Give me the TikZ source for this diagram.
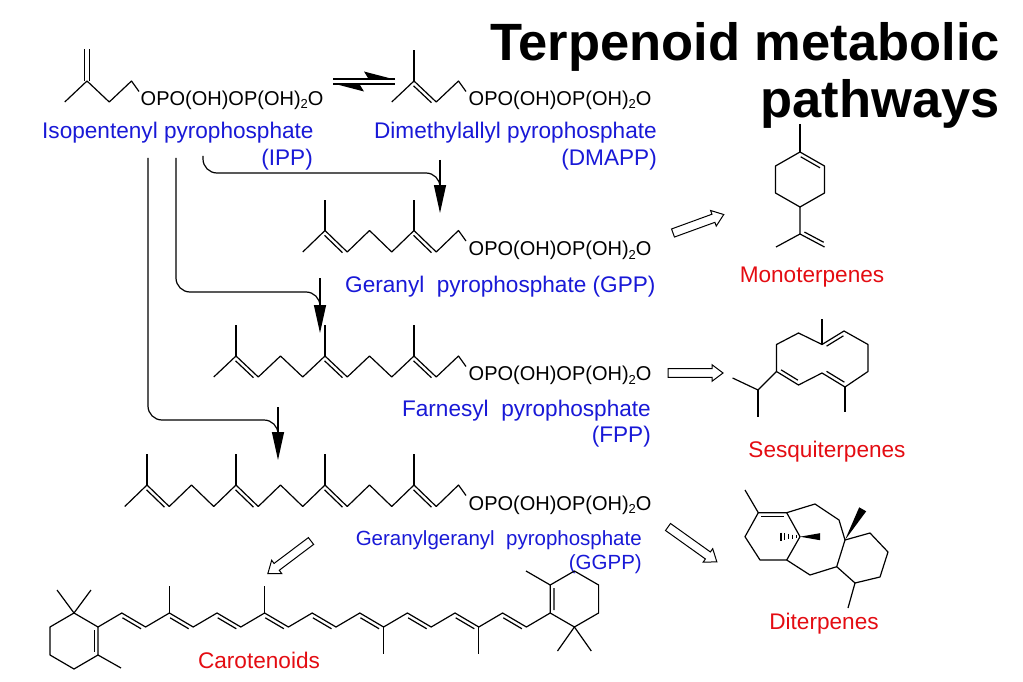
\documentclass[tikz,border=0pt]{standalone}
\usepackage{fontspec}
\setmainfont{Liberation Sans}
\usetikzlibrary{calc,arrows.meta}
\definecolor{lblue}{RGB}{25,25,215}
\definecolor{lred}{RGB}{228,12,18}
\tikzset{
 bond/.style={line width=1.2pt, line join=round},
 arr/.style={line width=1.2pt, rounded corners=14pt, -{Triangle[length=28pt,width=12pt]}},
 hollowarrow/.style={line width=1pt, draw=black, fill=white, line join=miter},
 blab/.style={text=lblue, inner sep=0pt, font=\fontsize{22.6}{26}\selectfont},
 glab/.style={text=lblue, inner sep=0pt, font=\fontsize{20.5}{24}\selectfont},
 rlab/.style={text=lred, inner sep=0pt, anchor=base, font=\fontsize{22.6}{26}\selectfont},
 pyro/.style={inner sep=0pt, anchor=base west, font=\fontsize{20}{24}\selectfont},
 titlefont/.style={inner sep=0pt, anchor=base east, font=\fontsize{52.5}{60}\selectfont\bfseries},
}
\newcommand{\subtwo}{{\fontsize{13}{13}\selectfont\raisebox{-3.5pt}{2}}}
\newcommand{\dbl}[2]{\draw[bond, shorten <=3pt, shorten >=3pt] ($(#1)!3.8pt!-90:(#2)$) -- ($(#2)!3.8pt!90:(#1)$);}
\newcommand{\isochain}[4]{%
 \foreach \m in {#2,...,15}{%
   \pgfmathtruncatemacro\isoodd{mod(\m,2)}%
   \ifnum\isoodd=1 \coordinate (#1\m) at ({124.75+22.25*\m},#3);\else\coordinate (#1\m) at ({124.75+22.25*\m},#4);\fi
 }%
 \pgfmathtruncatemacro\isonext{#2+1}%
 \draw[bond] (#1#2) \foreach \m in {\isonext,...,15}{ -- (#1\m)} -- ++(7.5,10.5);
 \foreach \m in {1,5,9,13}{%
   \ifnum\m<#2\relax\else
     \draw[bond] (#1\m) -- ++(0,-31);
     \pgfmathtruncatemacro\isonx{\m+1}%
     \dbl{#1\m}{#1\isonx}
   \fi
 }%
}
\newcommand{\hollowarr}[3]{%
 \begin{scope}[shift={#1},rotate=#2]
  \draw[hollowarrow] (0,-4.3) -- ({#3-11},-4.3) -- ({#3-11},-8.3) -- (#3,0) -- ({#3-11},8.3) -- ({#3-11},4.3) -- (0,4.3) -- cycle;
 \end{scope}}
\begin{document}
\begin{tikzpicture}[x=1pt,y=-1pt]
\fill[white] (0,0) rectangle (1023,682);
\useasboundingbox (0,0) rectangle (1023,682);

% title
\node[titlefont] (title1) at (1000,61) {Terpenoid metabolic};
\node[titlefont] (title2) at (1000,118) {pathways};

% IPP
\coordinate (I1) at (64.75,102);
\coordinate (I2) at (87,81);
\coordinate (I3) at (109.25,102);
\coordinate (I4) at (131.5,81);
\coordinate (I5) at (87,49.5);
\draw[bond] (I1) -- (I2) -- (I3) -- (I4) -- ++(7.5,10.5);
\draw[bond] ($(I2)+(-2.2,0)$) -- ($(I5)+(-2.2,0)$);
\draw[bond] ($(I2)+(2.2,0)$) -- ($(I5)+(2.2,0)$);
\node[pyro] (ipptext) at (140.5,105.5) {OPO(OH)OP(OH)\subtwo O};
\node[blab, anchor=base west] (ipplab) at (42,139) {Isopentenyl pyrophosphate};
\node[blab, anchor=base east] (ippab) at (313,165) {(IPP)};

% equilibrium harpoons
\coordinate (EqA) at (333,79);
\coordinate (EqB) at (395,79);
\coordinate (EqC) at (333,84);
\coordinate (EqD) at (395,84);
\draw[bond] (EqA) -- (EqB);
\fill (395,79.6) -- (364,71.5) -- (369,79.6) -- cycle;
\draw[bond] (EqC) -- (EqD);
\fill (333,83.4) -- (364,91.5) -- (359,83.4) -- cycle;

% DMAPP, GPP, FPP, GGPP chains
\isochain{DM}{12}{81}{102}
\isochain{GP}{8}{230.5}{252}
\isochain{FP}{4}{356}{377}
\isochain{GG}{0}{485}{506.5}
\node[pyro] (dmtext) at (468.5,105.5) {OPO(OH)OP(OH)\subtwo O};
\node[pyro] (gptext) at (468.5,255.5) {OPO(OH)OP(OH)\subtwo O};
\node[pyro] (fptext) at (468.5,380.5) {OPO(OH)OP(OH)\subtwo O};
\node[pyro] (ggtext) at (468.5,510) {OPO(OH)OP(OH)\subtwo O};

\node[blab, anchor=base east] (dmlab) at (657,139) {Dimethylallyl pyrophosphate};
\node[blab, anchor=base east] (dmab) at (657,165) {(DMAPP)};
\node[blab, anchor=base west] (gplab) at (345,292) {Geranyl~~pyrophosphate (GPP)};
\node[blab, anchor=base east] (fplab) at (651,416) {Farnesyl~~pyrophosphate};
\node[blab, anchor=base east] (fpab) at (651,442) {(FPP)};
\node[glab, anchor=base east] (gglab) at (642,545) {Geranylgeranyl~~pyrophosphate};
\node[glab, anchor=base east] (ggab) at (642,569) {(GGPP)};

% curved arrows from IPP
\coordinate (A0) at (203,156);
\coordinate (A1) at (440,173);
\coordinate (A2) at (440,213);
\coordinate (A3) at (440,160);
\draw[arr] (A0) |- (A1) -- (A2);
\draw[bond] (A3) -- (440,190);
\coordinate (B0) at (176,158);
\coordinate (B1) at (320,292);
\coordinate (B2) at (320,333);
\coordinate (B3) at (320,278);
\draw[arr] (B0) |- (B1) -- (B2);
\draw[bond] (B3) -- (320,306);
\coordinate (C0) at (148,158);
\coordinate (C1) at (278,420);
\coordinate (C2) at (278,460);
\coordinate (C3) at (278,407);
\draw[arr] (C0) |- (C1) -- (C2);
\draw[bond] (C3) -- (278,434);

% hollow arrows
\hollowarr{(673,233)}{20}{54}
\hollowarr{(668,373)}{0}{55}
\hollowarr{(668,527)}{-35.5}{60}
\hollowarr{(311,541)}{-143}{54}

% Limonene
\coordinate (L0) at (800,124);
\coordinate (L1) at (800,152);
\coordinate (L2) at (824.5,166);
\coordinate (L3) at (824.5,193);
\coordinate (L4) at (800,207);
\coordinate (L5) at (775.5,193);
\coordinate (L6) at (775.5,166);
\coordinate (L7) at (800,234);
\coordinate (L8) at (776,247);
\coordinate (L9) at (824.5,247);
\draw[bond] (L0) -- (L1);
\draw[bond] (L1) -- (L2) -- (L3) -- (L4) -- (L5) -- (L6) -- cycle;
\dbl{L1}{L2}
\draw[bond] (L4) -- (L7) -- (L8);
\draw[bond] (L7) -- (L9);
\dbl{L9}{L7}
\node[rlab] (mono) at (812,282) {Monoterpenes};

% Germacrene
\coordinate (Ga) at (822,344.5);
\coordinate (Gb) at (844,331);
\coordinate (Gc) at (868,344.5);
\coordinate (Gd) at (868,371.5);
\coordinate (Ge) at (845,387);
\coordinate (Gf) at (822,373);
\coordinate (Gg) at (798.5,385);
\coordinate (Gh) at (776.5,371.5);
\coordinate (Gi) at (776.5,344.5);
\coordinate (Gj) at (798.5,333);
\coordinate (Gk) at (758,390);
\draw[bond] (Ga) -- (Gb) -- (Gc) -- (Gd) -- (Ge) -- (Gf) -- (Gg) -- (Gh) -- (Gi) -- (Gj) -- cycle;
\dbl{Ga}{Gb}
\dbl{Ge}{Gf}
\dbl{Gg}{Gh}
\draw[bond] (Ga) -- (822,319);
\draw[bond] (Ge) -- (845,412);
\draw[bond] (Gh) -- (Gk) -- (732.6,378);
\draw[bond] (Gk) -- (758,417);
\node[rlab] (sesq) at (827,457) {Sesquiterpenes};

% Diterpene
\coordinate (Dm) at (745,490);
\coordinate (D1) at (758.3,512.7);
\coordinate (D2) at (786.7,512.7);
\coordinate (D3) at (745,536.7);
\coordinate (D4) at (760,560);
\coordinate (D5) at (786.7,560);
\coordinate (D6) at (800,536.7);
\coordinate (E1) at (815,504);
\coordinate (E2) at (839,520);
\coordinate (E3) at (845,540);
\coordinate (E4) at (836.7,566.7);
\coordinate (E5) at (810,575);
\coordinate (F1) at (870,533);
\coordinate (F2) at (888,552);
\coordinate (F3) at (880,577);
\coordinate (F4) at (855,583);
\draw[bond] (Dm) -- (D1) -- (D3) -- (D4) -- (D5) -- (D6) -- (D2) -- (D1);
\dbl{D1}{D2}
\draw[bond] (D2) -- (E1) -- (E2) -- (E3) -- (E4) -- (E5) -- (D5);
\draw[bond] (E3) -- (F1) -- (F2) -- (F3) -- (F4) -- (E4);
\draw[bond] (F4) -- (848,608);
\fill (D6) -- (820,533.2) -- (820,540.2) -- cycle;
\fill (E3) -- (866.2,511.3) -- (859.2,507.3) -- cycle;
\foreach \t in {0.2,0.4,0.6,0.8,1.0} {
  \draw[line width=1.1pt] ({800-19*\t},{536.7-(0.6+3.6*\t)}) -- ({800-19*\t},{536.7+(0.6+3.6*\t)});
}
\node[rlab] (dite) at (824,629) {Diterpenes};

% Carotenoid
\foreach \k in {0,...,19}{%
  \pgfmathtruncatemacro\isoodd{mod(\k,2)}%
  \ifnum\isoodd=1 \coordinate (K\k) at ({98+23.8*\k},613);\else\coordinate (K\k) at ({98+23.8*\k},627);\fi
}
\draw[bond] (K0) \foreach \k in {1,...,19}{ -- (K\k)};
\foreach \a/\b in {1/2,3/4,5/6,7/8,9/10,11/12,13/14,15/16,17/18} {\dbl{K\a}{K\b}}
\draw[bond] (K3) -- ++(0,-27);
\draw[bond] (K7) -- ++(0,-27);
\draw[bond] (K12) -- ++(0,27);
\draw[bond] (K16) -- ++(0,27);
\coordinate (R1) at (74,613);
\coordinate (R3) at (98,655);
\coordinate (R4) at (74,669);
\coordinate (R5) at (50,655);
\coordinate (R6) at (50,627);
\draw[bond] (K0) -- (R3) -- (R4) -- (R5) -- (R6) -- (R1) -- cycle;
\dbl{K0}{R3}
\draw[bond] (R1) -- (57,590);
\draw[bond] (R1) -- (91,590);
\draw[bond] (R3) -- (121,668);
\coordinate (S5) at (550.2,585);
\coordinate (S4) at (574.4,571);
\coordinate (S3) at (598.6,585);
\coordinate (S2) at (598.6,613);
\coordinate (S1) at (574.4,627);
\draw[bond] (K19) -- (S5) -- (S4) -- (S3) -- (S2) -- (S1) -- cycle;
\dbl{K19}{S5}
\draw[bond] (S5) -- (526,571);
\draw[bond] (S1) -- (557.5,651);
\draw[bond] (S1) -- (591.3,651);
\node[rlab] (carot) at (259,668) {Carotenoids};
\end{tikzpicture}
\end{document}
